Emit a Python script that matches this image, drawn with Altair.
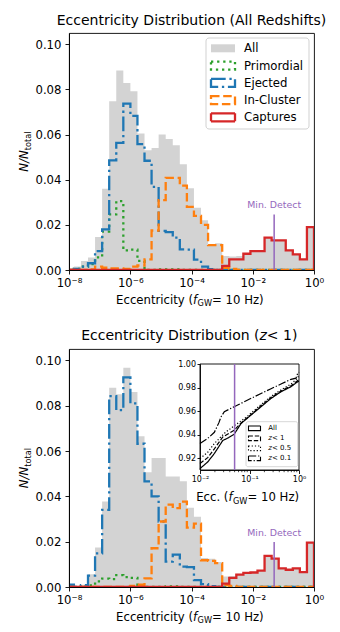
import altair as alt
import numpy as np
import pandas as pd

# ---------------- binning: 35 log-spaced bins ending at e = 1 ----------------
N_BINS = 35
BIN_DEX = 0.2306
edges = 10.0 ** (BIN_DEX * (np.arange(N_BINS + 1) - N_BINS))

# ---------------- panel 1: all redshifts (N/N_total per bin) ----------------
top_all = [0.0007, 0.0015, 0.0040, 0.0055, 0.0146, 0.0360, 0.0748, 0.0884, 0.0829, 0.0792,
           0.0605, 0.0530, 0.0540, 0.0600, 0.0580, 0.0553, 0.0468, 0.0362, 0.0276, 0.0220,
           0.0115, 0.0118, 0.0062, 0.0060, 0.0062, 0.0075, 0.0087, 0.0087, 0.0146, 0.0134,
           0.0134, 0.0090, 0.0072, 0.0050, 0.0193]
top_primordial = [0, 0.0005, 0.0015, 0.0026, 0.0056, 0.0170, 0.0246, 0.0305, 0.0087, 0.0090,
                  0.0040, 0, 0, 0.0003, 0.0003, 0.0003, 0, 0, 0, 0,
                  0, 0, 0, 0, 0, 0, 0, 0, 0, 0,
                  0, 0, 0, 0, 0]
top_ejected = [0, 0.0005, 0.0015, 0.0030, 0.0084, 0.0180, 0.0486, 0.0563, 0.0737, 0.0683,
               0.0558, 0.0484, 0.0368, 0.0173, 0.0168, 0.0143, 0.0091, 0.0090, 0.0046, 0.0015,
               0.0004, 0, 0, 0, 0, 0, 0, 0, 0, 0,
               0, 0, 0, 0, 0]
top_incluster = [0, 0, 0, 0.0003, 0.0015, 0.0010, 0.0007, 0.0007, 0.0005, 0.0015,
                 0.0020, 0.0047, 0.0175, 0.0310, 0.0408, 0.0408, 0.0374, 0.0280, 0.0240, 0.0200,
                 0.0110, 0.0110, 0.0010, 0.0005, 0, 0, 0, 0, 0, 0,
                 0, 0, 0, 0, 0]
top_captures = [0, 0, 0, 0, 0, 0, 0, 0, 0, 0,
                0, 0, 0, 0, 0, 0, 0, 0, 0, 0,
                0, 0, 0.0018, 0.0047, 0.0047, 0.0072, 0.0084, 0.0084, 0.0143, 0.0131,
                0.0131, 0.0087, 0.0069, 0.0047, 0.0190]

# ---------------- panel 2: z < 1 ----------------
bot_all = [0.0010, 0.0005, 0.0010, 0.0056, 0.0174, 0.0377, 0.0879, 0.0850, 0.0967, 0.0860,
           0.0665, 0.0506, 0.0569, 0.0569, 0.0488, 0.0488, 0.0466, 0.0350, 0.0310, 0.0128,
           0.0125, 0.0110, 0.0046, 0.0048, 0.0058, 0.0065, 0.0067, 0.0075, 0.0140, 0.0128,
           0.0085, 0.0079, 0.0085, 0.0069, 0.0199]
bot_primordial = [0, 0, 0.0003, 0.0007, 0.0025, 0.0037, 0.0035, 0.0052, 0.0044, 0.0040,
                  0.0006, 0, 0, 0, 0.0003, 0.0003, 0, 0, 0, 0,
                  0, 0, 0, 0, 0, 0, 0, 0, 0, 0,
                  0, 0, 0, 0, 0]
bot_ejected = [0.0010, 0, 0.0008, 0.0050, 0.0148, 0.0340, 0.0842, 0.0780, 0.0925, 0.0810,
               0.0632, 0.0466, 0.0400, 0.0289, 0.0112, 0.0143, 0.0090, 0.0088, 0.0030, 0.0013,
               0.0004, 0, 0, 0, 0, 0, 0, 0, 0, 0,
               0, 0, 0, 0, 0]
bot_incluster = [0, 0, 0, 0, 0, 0, 0, 0, 0, 0.0005,
                 0.0010, 0.0038, 0.0171, 0.0289, 0.0363, 0.0348, 0.0377, 0.0262, 0.0280, 0.0118,
                 0.0115, 0.0105, 0.0008, 0.0005, 0, 0, 0, 0, 0, 0,
                 0, 0, 0, 0, 0]
bot_captures = [0, 0, 0, 0, 0, 0, 0, 0, 0, 0,
                0, 0, 0, 0, 0, 0, 0, 0, 0, 0,
                0, 0, 0.0015, 0.0040, 0.0055, 0.0062, 0.0064, 0.0072, 0.0137, 0.0125,
                0.0082, 0.0076, 0.0082, 0.0066, 0.0196]

# ---------------- inset: cumulative fraction vs eccentricity ----------------
cdf_all_x = [0.0100, 0.0143, 0.0195, 0.0288, 0.0380, 0.0490, 0.0676, 0.1070, 0.1710, 0.2720, 0.4330, 0.6890, 0.9400, 1.0000]
cdf_all_y = [0.9112, 0.9168, 0.9240, 0.9350, 0.9375, 0.9404, 0.9495, 0.9566, 0.9637, 0.9708, 0.9764, 0.9807, 0.9850, 0.9852]
cdf_z1_x = [0.0100, 0.0143, 0.0195, 0.0288, 0.0490, 0.0676, 0.1070, 0.1710, 0.2720, 0.4330, 0.6890, 0.9400, 1.0000]
cdf_z1_y = [0.9155, 0.9205, 0.9280, 0.9380, 0.9438, 0.9500, 0.9570, 0.9645, 0.9715, 0.9770, 0.9815, 0.9860, 0.9865]
cdf_z05_x = [0.0100, 0.0143, 0.0195, 0.0327, 0.0490, 0.0870, 0.1710, 0.2720, 0.4330, 0.6890, 0.9400, 1.0000]
cdf_z05_y = [0.9198, 0.9250, 0.9325, 0.9420, 0.9475, 0.9550, 0.9655, 0.9725, 0.9780, 0.9830, 0.9880, 0.9910]
cdf_z01_x = [0.0100, 0.0143, 0.0195, 0.0240, 0.0265, 0.0310, 0.0420, 0.0490, 0.0920, 0.1710, 0.2720, 0.4330, 0.6890, 0.8700, 0.9400, 1.0000]
cdf_z01_y = [0.9325, 0.9368, 0.9420, 0.9500, 0.9550, 0.9595, 0.9623, 0.9637, 0.9694, 0.9750, 0.9790, 0.9830, 0.9870, 0.9880, 0.9920, 0.9930]

MIN_DETECT = 0.05
legend_labels = ["All", "Primordial", "Ejected", "In-Cluster", "Captures"]

# ---------------- styling ----------------
FONT = "DejaVu Sans"
NB = "\u00a0"
GREY = "#d3d3d3"
GREEN, BLUE, ORANGE, RED, PURPLE = "#2ca02c", "#1f77b4", "#ff7f0e", "#d62728", "#9467bd"
LW = 2.3
DOTTED = [2.3, 3.8]
DASHDOT = [14.7, 3.7, 2.3, 3.7]
DASHED = [8.5, 3.7]
SOLID = [1, 0]
ILW = 1.2
I_DASHED = [4.4, 1.9]
I_DOTTED = [1.2, 2.0]
I_DASHDOT = [7.7, 1.9, 1.2, 1.9]

W = 245
H_TOP = 237
H_BOT = 238
Y_MAX = 0.105
FS = 11.7
DUMMY = pd.DataFrame({"k": [0]})

SUP = str.maketrans("-0123456789", "⁻⁰¹²³⁴⁵⁶⁷⁸⁹")


def sup_label(e):
    return "10" + str(e).translate(SUP)


def log_label_expr(exps):
    parts = [f"abs(log(datum.value)/LN10 - ({e})) < 0.01 ? '{sup_label(e)}'" for e in exps]
    return " : ".join(parts) + " : ''"


def text(t, x, y, size=FS, style="normal", align="left", baseline="alphabetic", angle=0, color="black"):
    return alt.Chart(DUMMY).mark_text(
        text=t, font=FONT, fontSize=size, fontStyle=style, align=align,
        baseline=baseline, angle=angle, color=color
    ).encode(x=alt.value(x), y=alt.value(y))


def box(x1, x2, y1, y2, **kw):
    return alt.Chart(DUMMY).mark_rect(**kw).encode(
        x=alt.value(x1), x2=alt.value(x2), y=alt.value(y1), y2=alt.value(y2))


def step_frame(values):
    xs = [edges[0]] + list(edges[:-1]) + [edges[-1], edges[-1]]
    ys = [0.0] + list(values) + [values[-1], 0.0]
    return pd.DataFrame({"e": xs, "n": ys, "order": np.arange(len(xs))})


main_x_axis = alt.Axis(
    values=[1e-8, 1e-6, 1e-4, 1e-2, 1], labelExpr=log_label_expr([-8, -6, -4, -2, 0]),
    title=None, grid=False, domain=True, domainColor="black", domainWidth=0.9,
    tickColor="black", tickWidth=0.9, tickSize=4, labelFont=FONT, labelFontSize=FS,
    labelColor="black", labelPadding=3, labelFlush=False, labelOverlap=False, zindex=1)
main_y_axis = alt.Axis(
    values=[0, 0.02, 0.04, 0.06, 0.08, 0.10], format=".2f",
    title=None, grid=False, domain=True, domainColor="black", domainWidth=0.9,
    tickColor="black", tickWidth=0.9, tickSize=4, labelFont=FONT, labelFontSize=FS,
    labelColor="black", labelPadding=4, labelFlush=False, labelOverlap=False, zindex=1)


def hist_layers(vals_all, vals_prim, vals_ej, vals_in, vals_cap, md_rule_top, md_text_y):
    xs = alt.Scale(type="log", domain=[1e-8, 1], nice=False)
    ys = alt.Scale(domain=[0, Y_MAX], nice=False)
    X = lambda f: alt.X(f, scale=xs, axis=main_x_axis)
    Y = lambda f: alt.Y(f, scale=ys, axis=main_y_axis, stack=None)

    area_df = pd.DataFrame({"e": edges, "n": list(vals_all) + [vals_all[-1]]})
    layers = [alt.Chart(area_df).mark_area(interpolate="step-after", color=GREY, clip=True)
              .encode(x=X("e:Q"), y=Y("n:Q"))]
    for vals, col, dash in [(vals_prim, GREEN, DOTTED), (vals_ej, BLUE, DASHDOT),
                            (vals_in, ORANGE, DASHED), (vals_cap, RED, SOLID)]:
        layers.append(
            alt.Chart(step_frame(vals)).mark_line(
                interpolate="step-after", color=col, strokeWidth=LW, strokeDash=dash, clip=True)
            .encode(x=X("e:Q"), y=Y("n:Q"), order="order:Q"))
    rule_df = pd.DataFrame({"x": [MIN_DETECT], "y0": [0.0], "y1": [md_rule_top]})
    layers.append(alt.Chart(rule_df).mark_rule(color=PURPLE, strokeWidth=1.5)
                  .encode(x=X("x:Q"), y=Y("y0:Q"), y2="y1:Q"))
    txt_df = pd.DataFrame({"x": [MIN_DETECT], "y": [md_text_y]})
    layers.append(alt.Chart(txt_df).mark_text(text="Min. Detect", font=FONT, fontSize=9.4,
                                              color=PURPLE, align="center", baseline="middle")
                  .encode(x=X("x:Q"), y=Y("y:Q")))
    return layers


def axis_titles(h):
    yb = h + 33.8
    x0 = 124
    out = [
        text("Eccentricity" + NB + "(", x0, yb, align="right"),
        text("f", x0, yb, style="italic"),
        text("GW", x0 + 4.6, yb + 2.5, size=8.2),
        text(NB + "=" + NB + "10" + NB + "Hz)", x0 + 19.1, yb),
    ]
    yc = h / 2
    y1 = yc - 1.3
    out += [
        text("N/N", -40.7, y1, style="italic", align="right", angle=270),
        text("total", -38.2, y1, size=8.2, align="left", angle=270),
    ]
    return out


# ---------------- top panel ----------------
top_layers = hist_layers(top_all, top_primordial, top_ejected, top_incluster, top_captures, 0.0246, 0.0288)
legend_layers = [box(137, 240, 5, 96, fill="white", fillOpacity=0.8, stroke="#cccccc",
                     strokeWidth=0.9, cornerRadius=3)]
styles = [(GREY, None), (GREEN, DOTTED), (BLUE, DASHDOT), (ORANGE, DASHED), (RED, SOLID)]
for i, (lab, (col, dash)) in enumerate(zip(legend_labels, styles)):
    yc = 15.3 + 17.25 * i
    if dash is None:
        legend_layers.append(box(142, 166, yc - 4, yc + 4, fill=col))
    else:
        legend_layers.append(box(142, 166, yc - 4, yc + 4, fill="transparent", stroke=col,
                                 strokeWidth=LW, strokeDash=dash))
    legend_layers.append(text(lab, 175, yc, baseline="middle"))

top_title = [text("Eccentricity Distribution (All Redshifts)", W / 2, -12, size=14,
                  align="center", baseline="middle")]

top_chart = alt.layer(*top_layers, *legend_layers, *top_title, *axis_titles(H_TOP)).properties(
    width=W, height=H_TOP)

# ---------------- bottom panel ----------------
bot_main = alt.layer(*hist_layers(bot_all, bot_primordial, bot_ejected, bot_incluster,
                                  bot_captures, 0.0198, 0.0240))

IX0, IX1, IY0, IY1 = 131, 230, 121, 15
ixs = alt.Scale(type="log", domain=[0.01, 1], range=[IX0, IX1], nice=False)
iys = alt.Scale(domain=[0.91, 1.0], range=[IY0, IY1], nice=False, zero=False)
ixa = alt.Axis(orient="bottom", offset=IY0 - H_BOT, values=[0.01, 0.1, 1],
               labelExpr=log_label_expr([-2, -1, 0]), title=None, grid=False, domain=True,
               domainColor="black", domainWidth=0.9, tickColor="black", tickWidth=0.9,
               tickSize=3.5, labelFont=FONT, labelFontSize=8, labelColor="black",
               labelPadding=2, labelFlush=False, labelOverlap=False, zindex=2)
iya = alt.Axis(orient="left", offset=-IX0, values=[0.92, 0.94, 0.96, 0.98, 1.0], format=".2f",
               title=None, grid=False, domain=True, domainColor="black", domainWidth=0.9,
               tickColor="black", tickWidth=0.9, tickSize=3, labelFont=FONT, labelFontSize=8,
               labelColor="black", labelPadding=1.5, labelFlush=False, labelOverlap=False, zindex=2)
IX = lambda f: alt.X(f, scale=ixs, axis=ixa)
IY = lambda f: alt.Y(f, scale=iys, axis=iya)

inset_layers = [
    alt.Chart(pd.DataFrame({"x1": [0.01], "x2": [1.0], "y1": [0.91], "y2": [1.0]}))
    .mark_rect(fill="white", stroke="black", strokeWidth=0.9)
    .encode(x=IX("x1:Q"), x2="x2:Q", y=IY("y1:Q"), y2="y2:Q")
]
for xs_, ys_, dash in [(cdf_all_x, cdf_all_y, SOLID), (cdf_z1_x, cdf_z1_y, I_DASHED),
                       (cdf_z05_x, cdf_z05_y, I_DOTTED), (cdf_z01_x, cdf_z01_y, I_DASHDOT)]:
    inset_layers.append(
        alt.Chart(pd.DataFrame({"x": xs_, "c": ys_})).mark_line(
            color="black", strokeWidth=ILW, strokeDash=dash)
        .encode(x=IX("x:Q"), y=IY("c:Q")))
inset_layers.append(
    alt.Chart(pd.DataFrame({"x": [MIN_DETECT], "y0": [0.91], "y1": [1.0]}))
    .mark_rule(color=PURPLE, strokeWidth=1.5)
    .encode(x=IX("x:Q"), y=IY("y0:Q"), y2="y1:Q"))
minor = [m * 10.0 ** d for d in (-2, -1) for m in range(2, 10)]
inset_layers.append(
    alt.Chart(pd.DataFrame({"m": minor})).mark_rule(color="black", strokeWidth=0.7)
    .encode(x=IX("m:Q"), y=alt.value(IY0), y2=alt.value(IY0 + 2.2)))
bot_inset = alt.layer(*inset_layers)

# inset legend and texts
overlay = [box(177, 228.7, 72.7, 117.7, fill="white", fillOpacity=0.8, stroke="#cccccc",
               strokeWidth=0.8, cornerRadius=2)]
inset_entries = [("All", None, SOLID), ("z", NB + "<" + NB + "1", I_DASHED),
                 ("z", NB + "<" + NB + "0.5", I_DOTTED), ("z", NB + "<" + NB + "0.1", I_DASHDOT)]
for i, (a, b, dash) in enumerate(inset_entries):
    yc = 79.3 + 10 * i
    overlay.append(box(179.5, 191.5, yc - 2.3, yc + 2.3, fill="transparent", stroke="black",
                       strokeWidth=1.1, strokeDash=dash))
    if b is None:
        overlay.append(text(a, 199.3, yc, size=7, baseline="middle"))
    else:
        overlay.append(text(a, 199.3, yc, size=7, style="italic", baseline="middle"))
        overlay.append(text(b, 202.9, yc, size=7, baseline="middle"))

# inset x title
ib = 148 + 4.3
ix0 = 159.4
overlay += [
    text("Ecc." + NB + "(", ix0, ib, align="right"),
    text("f", ix0, ib, style="italic"),
    text("GW", ix0 + 4.6, ib + 2.5, size=8.2),
    text(NB + "=" + NB + "10" + NB + "Hz)", ix0 + 19.1, ib),
]
# bottom title
overlay += [
    text("Eccentricity Distribution" + NB + "(", 190.5, -13, size=14, align="right", baseline="middle"),
    text("z", 190.5, -13, size=14, style="italic", baseline="middle"),
    text(NB + "<" + NB + "1)", 197.8, -13, size=14, baseline="middle"),
]
overlay += axis_titles(H_BOT)
bot_overlay = alt.layer(*overlay)

bottom_chart = alt.layer(bot_main, bot_inset, bot_overlay).resolve_scale(
    x="independent", y="independent").properties(width=W, height=H_BOT)

chart = alt.vconcat(top_chart, bottom_chart, spacing=20).resolve_scale(
    x="independent", y="independent"
).properties(
    padding={"left": 10, "top": 5, "right": 5, "bottom": 0},
    background="white",
).configure_view(stroke="black", strokeWidth=0.9)

chart.save("out.html", embed_options={"renderer": "svg", "actions": False})
